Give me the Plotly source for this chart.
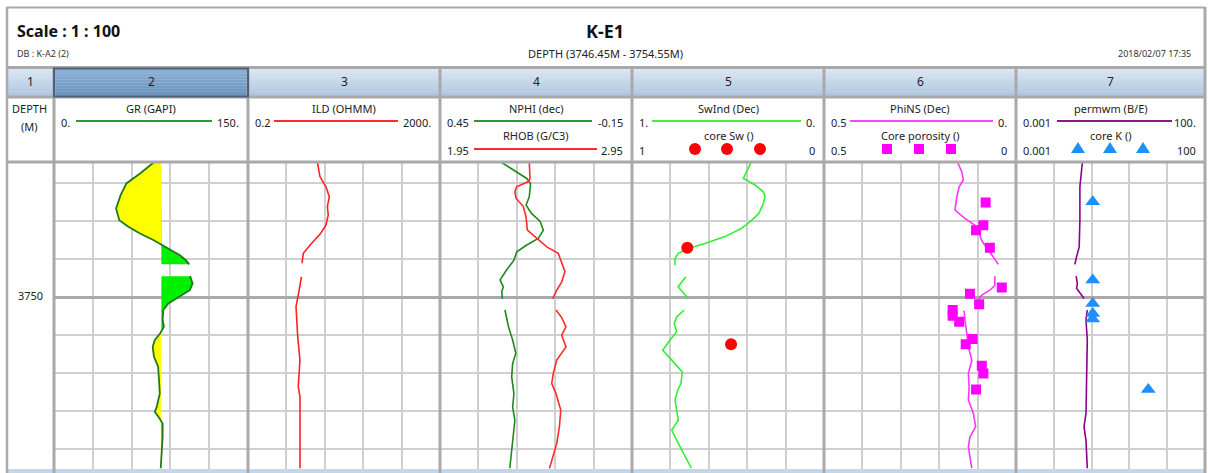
import numpy as np
import plotly.graph_objects as go

W, H = 1208, 473

# ------------------------------------------------------------------ data
track_numbers = ["1", "2", "3", "4", "5", "6", "7"]

gr_depth = [3746.45, 3746.74, 3747.0, 3747.31, 3747.66, 3747.97, 3748.14, 3748.32, 3748.49,
            3748.62, 3748.76, 3748.89, 3749.02, 3749.13, None, 3749.44, 3749.63, 3749.81,
            3749.98, 3750.16, 3750.33, 3750.6, 3750.77, 3750.95, 3751.12, 3751.3, 3751.56,
            3751.82, 3752.18, 3752.53, 3752.88, 3753.01, 3753.18, 3753.32, 3753.67, 3754.1, 3754.5]
gr = [77, 66.5, 56, 51.5, 48, 50.5, 57.5, 66.5, 76.8,
      83.3, 91, 97.4, 102, 104.6, None, 105.2, 107.2, 105,
      97.4, 88.4, 84.5, 84, 85, 82, 78, 76.3, 77.3,
      80.5, 81.2, 81.8, 79.4, 78, 81.5, 84, 84, 83.3, 82.5]
gr_cutoff = 83

ild_depth = [3746.45, 3746.82, 3747.09, 3747.35, 3747.61, 3747.83, 3748.1, 3748.32, 3748.58,
             3748.8, 3748.84, 3749.1, None, 3749.46, 3749.72, 3749.98, 3750.24, 3750.51,
             3751.03, 3751.65, 3752.0, 3752.35, 3752.61, 3753.23, 3754.5]
ild = [5.6, 6.3, 8.4, 9.9, 9.0, 9.4, 8.4, 6.5, 4.2,
       3.0, 2.84, 2.67, None, 2.6, 2.35, 2.2, 2.0, 2.06,
       2.17, 2.42, 2.35, 2.23, 2.42, 2.42, 2.42]

nphi_depth = [3746.45, 3746.65, 3746.87, 3747.0, 3747.35, 3747.57, 3747.79, 3748.0, 3748.23,
              3748.45, 3748.62, 3748.8, 3749.02, 3749.28, 3749.54, 3749.72, 3749.85, 3750.03,
              None, 3750.33, 3750.77, 3751.12, 3751.47, 3751.74, 3752.09, 3752.53, 3752.88,
              3753.23, 3753.58, 3753.93, 3754.5]
nphi = [0.257, 0.221, 0.179, 0.167, 0.171, 0.181, 0.164, 0.137, 0.127,
        0.143, 0.179, 0.210, 0.219, 0.242, 0.2625, 0.252, 0.257, 0.255,
        None, 0.247, 0.236, 0.223, 0.213, 0.223, 0.226, 0.219, 0.223,
        0.216, 0.221, 0.226, 0.232]

rhob_depth = [3746.45, 3746.87, 3746.95, 3747.09, 3747.22, 3747.39, 3747.61, 3747.88, 3748.23,
              3748.45, 3748.67, 3748.84, 3749.11, 3749.32, 3749.59, 3749.81, 3750.03, None,
              3750.33, 3750.53, 3750.77, 3750.99, 3751.3, 3751.65, 3752.0, 3752.26, 3752.53,
              3752.96, 3753.4, 3753.84, 3754.5]
rhob = [2.415, 2.419, 2.41, 2.349, 2.34, 2.346, 2.384, 2.398, 2.405,
        2.453, 2.506, 2.566, 2.584, 2.601, 2.584, 2.558, 2.537, None,
        2.554, 2.584, 2.606, 2.584, 2.606, 2.558, 2.54, 2.532, 2.554,
        2.579, 2.572, 2.558, 2.52]

swind_depth = [3746.45, 3746.61, 3746.87, 3747.04, 3747.22, 3747.35, 3747.53, 3747.79, 3747.97,
               3748.18, 3748.4, 3748.58, 3748.71, 3748.84, 3748.97, 3749.15, None, 3749.46,
               3749.72, 3750.03, None, 3750.33, 3750.51, 3750.68, 3750.9, 3751.12, 3751.39,
               3751.65, 3751.96, 3752.26, 3752.44, 3752.7, 3752.97, 3753.23, 3753.49, 3753.84,
               3754.5]
swind = [0.38, 0.394, 0.42, 0.359, 0.316, 0.307, 0.316, 0.339, 0.377,
         0.429, 0.516, 0.62, 0.707, 0.759, 0.776, 0.776, None, 0.72,
         0.76, 0.707, None, 0.728, 0.767, 0.78, 0.767, 0.802, 0.84,
         0.793, 0.738, 0.745, 0.762, 0.776, 0.767, 0.759, 0.793, 0.759,
         0.69]

core_sw_depth = [3748.69, 3751.23]
core_sw = [0.712, 0.484]

phins_depth = [3746.45, 3746.7, 3746.91, 3747.09, 3747.35, 3747.7, 3747.92, 3748.1, 3748.32,
               3748.53, 3748.75, 3748.93, 3749.13, None, 3749.44, 3749.68, 3749.81, 3749.94,
               3750.03, None, 3750.35, 3750.6, 3750.95, 3751.3, 3751.65, 3752.0, 3752.35,
               3752.7, 3753.05, 3753.4, 3753.67, 3753.93, 3754.5]
phins = [0.152, 0.141, 0.137, 0.148, 0.154, 0.159, 0.133, 0.107, 0.096,
         0.088, 0.072, 0.059, 0.046, None, 0.055, 0.055, 0.068, 0.089,
         0.098, None, 0.135, 0.133, 0.128, 0.124, 0.115, 0.124, 0.122,
         0.124, 0.111, 0.105, 0.12, 0.124, 0.115]

core_phi_depth = [3747.5, 3748.1, 3748.23, 3748.69, 3749.74, 3749.9, 3750.18, 3750.33,
                  3750.48, 3750.64, 3751.09, 3751.23, 3751.8, 3752.0, 3752.42]
core_phi = [0.079, 0.085, 0.104, 0.068, 0.037, 0.12, 0.096, 0.165,
            0.165, 0.148, 0.113, 0.131, 0.089, 0.085, 0.104]

perm_depth = [3746.45, 3747.09, 3747.97, 3748.67, 3748.93, 3749.13, None, 3749.44, 3749.63,
              3749.76, 3750.03, None, 3750.33, 3750.6, 3751.12, 3752.35, 3753.05, 3753.4,
              3753.76, 3754.5]
perm = [0.057, 0.049, 0.049, 0.047, 0.040, 0.036, None, 0.039, 0.042,
        0.040, 0.063, None, 0.077, 0.071, 0.077, 0.074, 0.071, 0.063,
        0.071, 0.077]

core_k_depth = [3747.48, 3749.54, 3750.16, 3750.42, 3750.57, 3752.42]
core_k = [0.107, 0.107, 0.107, 0.107, 0.107, 3.16]

depth_labels = [3750]

# ------------------------------------------------------------------ geometry / style
TB = [7, 54, 248, 440, 632, 824, 1016, 1205]
PLOT_TOP, PLOT_BOT = 162.5, 468.5
D_TOP, D_BOT = 3746.45, 3754.5
FONT = "Noto Sans, DejaVu Sans, sans-serif"
BORDER = "#a9a9a9"
GRID = "#cfcfcf"


def X(p):
    return p / W


def Y(p):
    return 1 - p / H


def segments(d, v):
    segs, cd, cv = [], [], []
    for a, b in zip(d, v):
        if a is None or b is None:
            if cd:
                segs.append((cd, cv))
            cd, cv = [], []
        else:
            cd.append(a)
            cv.append(b)
    if cd:
        segs.append((cd, cv))
    return segs


fig = go.Figure()
ydom = [Y(PLOT_BOT), Y(PLOT_TOP)]
lay = dict(
    width=W, height=H, margin=dict(l=0, r=0, t=0, b=0),
    paper_bgcolor="white", plot_bgcolor="white", showlegend=False,
    font=dict(family=FONT, size=11, color="#222"),
)
lay["yaxis"] = dict(domain=ydom, range=[D_BOT, D_TOP], showticklabels=False, ticks="",
                    zeroline=False, showline=False, showgrid=True, gridcolor=BORDER,
                    gridwidth=3, tick0=3750, dtick=5, anchor="x2",
                    minor=dict(tick0=3746, dtick=1, showgrid=True, gridcolor=GRID, gridwidth=1.5))
lay["yaxis2"] = dict(domain=ydom, range=[D_BOT, D_TOP], visible=False, anchor="x")
lay["xaxis"] = dict(domain=[X(TB[0]), X(TB[1])], range=[0, 1], visible=False, anchor="y2")
for i in range(2, 8):
    lay[f"xaxis{i}"] = dict(domain=[X(TB[i - 1]), X(TB[i])], range=[0, 5], tick0=0, dtick=1,
                            showgrid=True, gridcolor=GRID, gridwidth=1.5, showticklabels=False,
                            ticks="", zeroline=False, showline=False, anchor="y")
    fig.add_trace(go.Scatter(x=[None], y=[None], xaxis=f"x{i}", yaxis="y", hoverinfo="skip"))

data_axes = {
    8: (2, dict(range=[0, 150])),
    9: (3, dict(type="log", range=[np.log10(0.2), np.log10(2000)])),
    10: (4, dict(range=[0.45, -0.15])),
    11: (4, dict(range=[1.95, 2.95])),
    12: (5, dict(range=[1, 0])),
    13: (6, dict(range=[0.5, 0])),
    14: (7, dict(type="log", range=[-3, 2])),
}
for k, (t, extra) in data_axes.items():
    ax = dict(domain=[X(TB[t - 1]), X(TB[t])], overlaying=f"x{t}", anchor="y", visible=False)
    ax.update(extra)
    lay[f"xaxis{k}"] = ax

# ---- depth label in track 1
fig.add_trace(go.Scatter(x=[0.5] * len(depth_labels), y=depth_labels, xaxis="x", yaxis="y2",
                         mode="text", text=[str(v) for v in depth_labels],
                         textfont=dict(family=FONT, size=11, color="#222"), hoverinfo="skip"))

# ---- GR fill (yellow below cutoff, green above)
for sd, sv in segments(gr_depth, gr):
    dd, vv = [sd[0]], [sv[0]]
    for j in range(1, len(sd)):
        a, b = sv[j - 1] - gr_cutoff, sv[j] - gr_cutoff
        if a * b < 0:
            t = a / (a - b)
            dd.append(sd[j - 1] + t * (sd[j] - sd[j - 1]))
            vv.append(gr_cutoff)
        dd.append(sd[j])
        vv.append(sv[j])
    vv = np.array(vv)
    for col, xs in (("#ffff00", np.minimum(vv, gr_cutoff)), ("#00f000", np.maximum(vv, gr_cutoff))):
        fig.add_trace(go.Scatter(x=list(xs) + [gr_cutoff, gr_cutoff], y=dd + [dd[-1], dd[0]],
                                 xaxis="x8", yaxis="y", mode="lines", fill="toself",
                                 fillcolor=col, line=dict(width=0), hoverinfo="skip"))


def curve(d, v, ax, color, width=1.6):
    fig.add_trace(go.Scatter(x=v, y=d, xaxis=ax, yaxis="y", mode="lines",
                             line=dict(color=color, width=width), connectgaps=False))


curve(gr_depth, gr, "x8", "#1f7a1f", 1.8)
curve(ild_depth, ild, "x9", "#ff2020")
curve(nphi_depth, nphi, "x10", "#1e8a1e")
curve(rhob_depth, rhob, "x11", "#ff2a2a")
curve(swind_depth, swind, "x12", "#33ee33")
curve(phins_depth, phins, "x13", "#ff33ff")
curve(perm_depth, perm, "x14", "#8b008b")

fig.add_trace(go.Scatter(x=core_sw, y=core_sw_depth, xaxis="x12", yaxis="y", mode="markers",
                         marker=dict(symbol="circle", size=12, color="#ff0000")))
fig.add_trace(go.Scatter(x=core_phi, y=core_phi_depth, xaxis="x13", yaxis="y", mode="markers",
                         marker=dict(symbol="square", size=10, color="#ff00ff")))
fig.add_trace(go.Scatter(x=core_k, y=core_k_depth, xaxis="x14", yaxis="y", mode="markers",
                         marker=dict(symbol="triangle-up", size=13, color="#1e8fff")))

# ------------------------------------------------------------------ header decoration
shapes, ann = [], []


def rect(x0, y0, x1, y1, fill=None, line=None, lw=0, layer="above"):
    shapes.append(dict(type="rect", xref="paper", yref="paper", x0=X(x0), x1=X(x1),
                       y0=Y(y1), y1=Y(y0), fillcolor=fill or "rgba(0,0,0,0)",
                       line=dict(color=line or "rgba(0,0,0,0)", width=lw), layer=layer))


def hline(x0, x1, y, color, lw):
    shapes.append(dict(type="line", xref="paper", yref="paper", x0=X(x0), x1=X(x1),
                       y0=Y(y), y1=Y(y), line=dict(color=color, width=lw), layer="above"))


def vline(x, y0, y1, color, lw):
    shapes.append(dict(type="line", xref="paper", yref="paper", x0=X(x), x1=X(x),
                       y0=Y(y0), y1=Y(y1), line=dict(color=color, width=lw), layer="above"))


def text(x, y, s, anchor="center", size=11, bold=False, color="#222"):
    ann.append(dict(x=X(x), y=Y(y), xref="paper", yref="paper", text=f"<b>{s}</b>" if bold else s,
                    showarrow=False, xanchor=anchor, yanchor="middle",
                    font=dict(family=FONT, size=size, color=color)))


def mix(c1, c2, t):
    a = [int(c1[i:i + 2], 16) for i in (1, 3, 5)]
    b = [int(c2[i:i + 2], 16) for i in (1, 3, 5)]
    return "#" + "".join(f"{round(a[k] + (b[k] - a[k]) * t):02x}" for k in range(3))


# header white background
rect(7, 7, 1205, 162, fill="white", layer="below")
# number row gradient
n = 10
r0, r1 = 68, 97
for i in range(n):
    y0 = r0 + (r1 - r0) * i / n
    y1 = r0 + (r1 - r0) * (i + 1) / n
    rect(7, y0, 1205, y1 + 0.5, fill=mix("#dce6f3", "#b0c6e0", i / (n - 1)))
    rect(TB[1], y0, TB[2], y1 + 0.5, fill=mix("#8db1d6", "#6891bd", i / (n - 1)))
# bottom bar
rect(7, 469, 1205, 474, fill="#c6d6ea")
# horizontal separators
hline(7, 1205, 7.5, BORDER, 2)
hline(7, 1205, 67.5, BORDER, 3)
hline(7, 1205, 97, BORDER, 3)
hline(7, 1205, 162, BORDER, 3)
vline(7, 7, 473, BORDER, 2.5)
vline(1205, 7, 473, BORDER, 3)
for x in TB[1:-1]:
    vline(x, 67.5, 473, BORDER, 3)
# selected track 2 cell
rect(TB[1], 68.5, TB[2], 96.5, line="#4c6278", lw=2)

# titles
text(15, 31, "Scale : 1 : 100", "left", 16, True, "#111")
text(605, 31, "K-E1", "center", 18, True, "#111")
text(15, 53, "DB : K-A2 (2)", "left", 9, False, "#333")
text(605, 53, "DEPTH (3746.45M - 3754.55M)", "center", 11, False, "#222")
text(1193, 54, "2018/02/07 17:35", "right", 9, False, "#333")

for i, s in enumerate(track_numbers):
    text((TB[i] + TB[i + 1]) / 2, 82, s, "center", 12, False, "#222")

# track headers
text(30, 108, "DEPTH", "center", 11)
text(30, 126, "(M)", "center", 11)


def header(t, y_lab, y_line, label, left, right, color, x0, x1):
    cx = (TB[t - 1] + TB[t]) / 2
    text(cx, y_lab, label, "center", 11)
    text(TB[t - 1] + 5, y_line + 1, left, "left", 11)
    text(TB[t] - 7, y_line + 1, right, "right", 11)
    if color:
        hline(x0, x1, y_line, color, 2)


header(2, 109, 121, "GR (GAPI)", "0.", "150.", "#2e9a2e", 76, 212)
header(3, 109, 121, "ILD (OHMM)", "0.2", "2000.", "#ff2a2a", 274, 398)
header(4, 108, 121, "NPHI (dec)", "0.45", "-0.15", "#2e9a2e", 474, 592)
header(4, 135, 149, "RHOB (G/C3)", "1.95", "2.95", "#ff2a2a", 474, 597)
header(5, 108, 121, "SwInd (Dec)", "1.", "0.", "#44ee44", 652, 801)
header(5, 135, 149, "core Sw ()", "1", "0", None, 0, 0)
header(6, 108, 121, "PhiNS (Dec)", "0.5", "0.", "#ff44ff", 850, 993)
header(6, 135, 149, "Core porosity ()", "0.5", "0", None, 0, 0)
header(7, 108, 121, "permwm (B/E)", "0.001", "100.", "#8b1a8b", 1057, 1172)
header(7, 135, 149, "core K ()", "0.001", "100", None, 0, 0)

for cx in (695, 727, 760):
    shapes.append(dict(type="circle", xref="paper", yref="paper", x0=X(cx - 6), x1=X(cx + 6),
                       y0=Y(155), y1=Y(143), fillcolor="#ff0000", line=dict(width=0), layer="above"))
for cx in (887, 919, 951):
    rect(cx - 5, 144, cx + 5, 154, fill="#ff00ff")
for cx in (1078, 1110, 1143):
    shapes.append(dict(type="path", xref="paper", yref="paper",
                       path=f"M {X(cx - 7)},{Y(153)} L {X(cx + 7)},{Y(153)} L {X(cx)},{Y(142)} Z",
                       fillcolor="#1e8fff", line=dict(width=0), layer="above"))

lay["shapes"] = shapes
lay["annotations"] = ann
fig.update_layout(**lay)
fig.write_html("out.html", config={"displayModeBar": False},
               post_script="document.body.style.margin='0px';document.body.style.overflow='hidden';")
